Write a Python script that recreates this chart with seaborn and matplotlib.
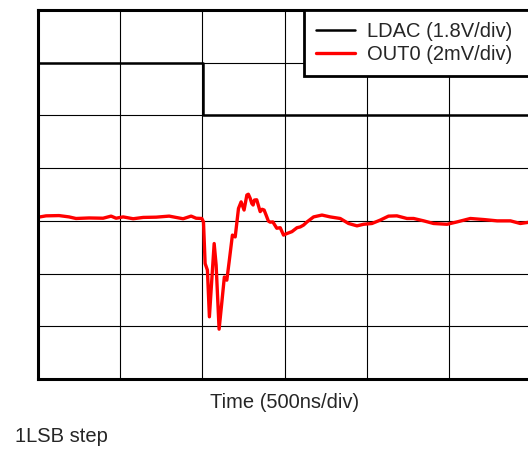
import numpy as np
import pandas as pd
import seaborn as sns
import matplotlib.pyplot as plt

# time base: 500 ns/div, 6 divisions shown
time_div_ns = 500
n_xdiv = 6
n_ydiv = 7

# LDAC trace (1.8 V/div), falling edge just after 2nd division
ldac_t_ns = [0, 1005, 1005, 3000]
ldac_v = [1.8, 1.8, 0.0, 0.0]
ldac_volts_per_div = 1.8
ldac_zero_div = 5

# OUT0 trace (2 mV/div), deviation from the centre grid line
out0_t_ns = [0, 12, 49, 128, 189, 231, 311, 396, 445, 475, 518, 579, 640, 719, 798,
             840, 883, 932, 962, 997, 1007, 1017, 1031, 1043, 1058, 1072, 1084,
             1102, 1119, 1134, 1149, 1163, 1183, 1200, 1220, 1236, 1254, 1271,
             1280, 1291, 1301, 1309, 1317, 1331, 1352, 1364, 1376, 1388, 1402,
             1413, 1429, 1453, 1474, 1494, 1515, 1545, 1576, 1596, 1616, 1637,
             1677, 1728, 1778, 1839, 1890, 1941, 1981, 2032, 2083, 2133, 2184,
             2245, 2286, 2347, 2407, 2489, 2550, 2631, 2712, 2794, 2875, 2935, 3002]
out0_mv = [0.15, 0.15, 0.19, 0.20, 0.15, 0.09, 0.11, 0.10, 0.18, 0.10, 0.15, 0.08,
           0.13, 0.14, 0.18, 0.13, 0.08, 0.18, 0.10, 0.09, -0.04, -1.62, -1.87,
           -3.64, -2.19, -0.86, -1.68, -4.11, -3.07, -2.13, -2.25, -1.56, -0.54,
           -0.61, 0.47, 0.72, 0.41, 0.98, 1.01, 0.86, 0.66, 0.60, 0.79, 0.80,
           0.35, 0.44, 0.41, 0.22, -0.01, -0.05, -0.04, -0.28, -0.26, -0.54,
           -0.48, -0.41, -0.26, -0.23, -0.16, -0.04, 0.15, 0.22, 0.15, 0.09,
           -0.10, -0.19, -0.13, -0.10, 0.03, 0.18, 0.19, 0.09, 0.09, 0.00,
           -0.10, -0.13, -0.04, 0.09, 0.05, 0.00, 0.00, -0.10, -0.04]
out0_mv_per_div = 2.0
out0_zero_div = 3

sns.set_style("white")
plt.rcParams['font.family'] = ['Liberation Sans', 'DejaVu Sans']

ldac = pd.DataFrame({'t': ldac_t_ns,
                     'div': ldac_zero_div + np.array(ldac_v) / ldac_volts_per_div})
out0 = pd.DataFrame({'t': out0_t_ns,
                     'div': out0_zero_div + np.array(out0_mv) / out0_mv_per_div})

fig = plt.figure(figsize=(5.28, 4.49), dpi=100)
ax = fig.add_axes([38 / 528, 70 / 449, 493 / 528, 369 / 449])

sns.lineplot(data=ldac, x='t', y='div', estimator=None, sort=False, ax=ax,
             color='black', lw=1.8, label='LDAC (1.8V/div)')
sns.lineplot(data=out0, x='t', y='div', estimator=None, sort=False, ax=ax,
             color='#ff0000', lw=2.4, label='OUT0 (2mV/div)')

ax.set_xlim(0, n_xdiv * time_div_ns)
ax.set_ylim(0, n_ydiv)
ax.set_xticks(np.arange(0, n_xdiv * time_div_ns + 1, time_div_ns))
ax.set_yticks(np.arange(0, n_ydiv + 1))
ax.tick_params(length=0, labelbottom=False, labelleft=False)
ax.grid(True, color='black', lw=0.8)
for s in ax.spines.values():
    s.set_color('black')
    s.set_linewidth(2.2)

ax.set_xlabel('Time (500ns/div)', fontsize=14.5, labelpad=10)
ax.set_ylabel('')

leg = ax.legend(loc='upper left', bbox_to_anchor=(266 / 493, 0.5, 1 - 266 / 493, 0.5),
                mode='expand', borderaxespad=0, fontsize=14.5, frameon=True,
                fancybox=False, handlelength=1.95, handletextpad=0.6,
                labelspacing=0.2, borderpad=0.6)
leg.get_frame().set_edgecolor('black')
leg.get_frame().set_linewidth(2.0)
leg.get_frame().set_alpha(1)

fig.text(15 / 528, (449 - 442) / 449, '1LSB step', fontsize=14.5, va='baseline')

fig.savefig('out.png', dpi=100)
